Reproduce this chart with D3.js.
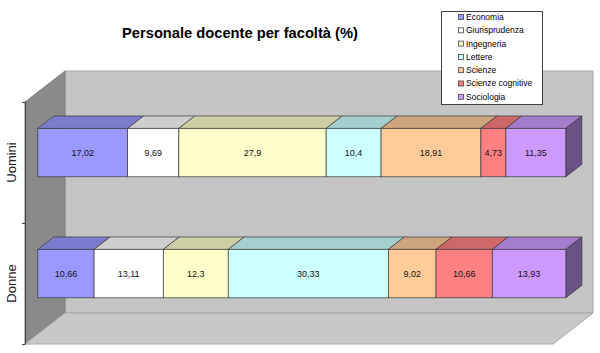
<!DOCTYPE html>
<html>
<head>
<meta charset="utf-8">
<script src="https://cdn.jsdelivr.net/npm/d3@7"></script>
<style>
  body { margin: 0; background: #fff; }
  text { font-family: "Liberation Sans", Arial, sans-serif; }
</style>
</head>
<body>
<div id="chart"></div>
<script>
// DATA
const categories = ["Uomini", "Donne"]
const faculties = ["Economia", "Giurisprudenza", "Ingegneria", "Lettere", "Scienze", "Scienze cognitive", "Sociologia"]
const uomini = [17.02, 9.69, 27.9, 10.4, 18.91, 4.73, 11.35]
const donne = [10.66, 13.11, 12.3, 30.33, 9.02, 10.66, 13.93]
const colors = ["#9999ff", "#ffffff", "#ffffcc", "#ccffff", "#ffcc99", "#ff8080", "#cc99ff"]

const width = 600, height = 353

// table for d3.stack
const rows = [uomini, donne].map((vals, i) => {
  const r = { cat: categories[i] }
  faculties.forEach((f, j) => r[f] = vals[j])
  return r
})

const series = d3.stack().keys(faculties)(rows)

// front plane scales + depth vector for the fake 3D
const xScale = d3.scaleLinear().domain([0, 100]).range([25, 553])
const yScale = d3.scaleBand()
  .domain(categories)
  .range([102, 344])
  .paddingInner(0.6)
  .paddingOuter(0.3)

const DX = 40, DY = -31 // full depth
const d1 = 0.32, d2 = 0.72 // bar front / back depth
const P = (x, y, d) => [x + d * DX, y + d * DY]
const poly = pts => pts.map(p => p.join(",")).join(" ")

const svg = d3.select("#chart")
  .append("svg")
  .attr("width", width)
  .attr("height", height)

// WALLS + FLOOR
const x0 = xScale.range()[0], x1 = xScale.range()[1]
const yTop = yScale.range()[0], yBot = yScale.range()[1]

svg.append("polygon") // back wall
  .attr("points", poly([P(x0, yTop, 1), P(x1, yTop, 1), P(x1, yBot, 1), P(x0, yBot, 1)]))
  .attr("fill", "#c4c4c4")
  .attr("stroke", "#a8a8a8")
  .attr("stroke-width", 1)

svg.append("polygon") // left wall
  .attr("points", poly([P(x0, yTop, 0), P(x0, yTop, 1), P(x0, yBot, 1), P(x0, yBot, 0)]))
  .attr("fill", "#8a8a8a")
  .attr("stroke", "#808080")
  .attr("stroke-width", 1)

svg.append("polygon") // floor
  .attr("points", poly([P(x0, yBot, 0), P(x1, yBot, 0), P(x1, yBot, 1), P(x0, yBot, 1)]))
  .attr("fill", "#c8c8c8")
  .attr("stroke", "#a8a8a8")
  .attr("stroke-width", 1)

// y axis on front plane
const axisG = svg.append("g")
axisG.append("line")
  .attr("x1", x0 + 0.5).attr("x2", x0 + 0.5)
  .attr("y1", yTop).attr("y2", yBot)
  .attr("stroke", "#404040")
const tickYs = [yTop, yTop + yScale.step(), yBot]
axisG.selectAll(".tick")
  .data(tickYs)
  .join("line")
    .attr("x1", x0 - 3).attr("x2", x0 + 0.5)
    .attr("y1", d => d + 0.5).attr("y2", d => d + 0.5)
    .attr("stroke", "#404040")

axisG.selectAll(".catlabel")
  .data(categories)
  .join("text")
    .attr("transform", d => `translate(16, ${yScale(d) + yScale.bandwidth() / 2}) rotate(-90)`)
    .attr("text-anchor", "middle")
    .attr("font-size", 13)
    .attr("fill", "#222")
    .text(d => d)

// BARS
const edge = "#3a3a3a"
series.forEach((s, j) => {
  const g = svg.append("g")
  s.forEach(seg => {
    const cat = seg.data.cat
    const xa = xScale(seg[0]), xb = xScale(seg[1])
    const ya = yScale(cat), yb = ya + yScale.bandwidth()
    // top face
    g.append("polygon")
      .attr("points", poly([P(xa, ya, d1), P(xb, ya, d1), P(xb, ya, d2), P(xa, ya, d2)]))
      .attr("fill", d3.color(colors[j]).darker(0.6))
      .attr("stroke", edge).attr("stroke-width", 0.7)
    // right side of last segment
    if (j === faculties.length - 1) {
      g.append("polygon")
        .attr("points", poly([P(xb, ya, d1), P(xb, ya, d2), P(xb, yb, d2), P(xb, yb, d1)]))
        .attr("fill", d3.color(colors[j]).darker(1.8))
        .attr("stroke", edge).attr("stroke-width", 0.7)
    }
    // front face
    const f = P(xa, ya, d1)
    g.append("rect")
      .attr("x", f[0]).attr("y", f[1])
      .attr("width", xb - xa)
      .attr("height", yb - ya)
      .attr("fill", colors[j])
      .attr("stroke", edge).attr("stroke-width", 0.7)
    g.append("text")
      .attr("x", f[0] + (xb - xa) / 2)
      .attr("y", f[1] + (yb - ya) / 2)
      .attr("dy", "0.35em")
      .attr("text-anchor", "middle")
      .attr("font-size", 9)
      .attr("fill", "#111")
      .text(String(seg.data[faculties[j]]).replace(".", ","))
  })
})

// TITLE
svg.append("text")
  .attr("x", 240)
  .attr("y", 38)
  .attr("text-anchor", "middle")
  .attr("font-size", 14.7)
  .attr("font-weight", "bold")
  .attr("fill", "#000")
  .text("Personale docente per facoltà (%)")

// LEGEND
const legend = svg.append("g").attr("transform", "translate(441, 11)")
legend.append("rect")
  .attr("x", 0.5).attr("y", 0.5)
  .attr("width", 101).attr("height", 93)
  .attr("fill", "#fff")
  .attr("stroke", "#404040")

const item = legend.selectAll(".item")
  .data(faculties)
  .join("g")
    .attr("transform", (d, i) => `translate(0, ${6 + i * 13.3})`)
item.append("rect")
  .attr("x", 17.5).attr("y", -2.5)
  .attr("width", 5).attr("height", 5)
  .attr("fill", (d, i) => colors[i])
  .attr("stroke", "#404040")
  .attr("stroke-width", 0.8)
item.append("text")
  .attr("x", 25)
  .attr("y", 0)
  .attr("dy", "0.35em")
  .attr("font-size", 8.5)
  .attr("fill", "#000")
  .text(d => d)
</script>
</body>
</html>
